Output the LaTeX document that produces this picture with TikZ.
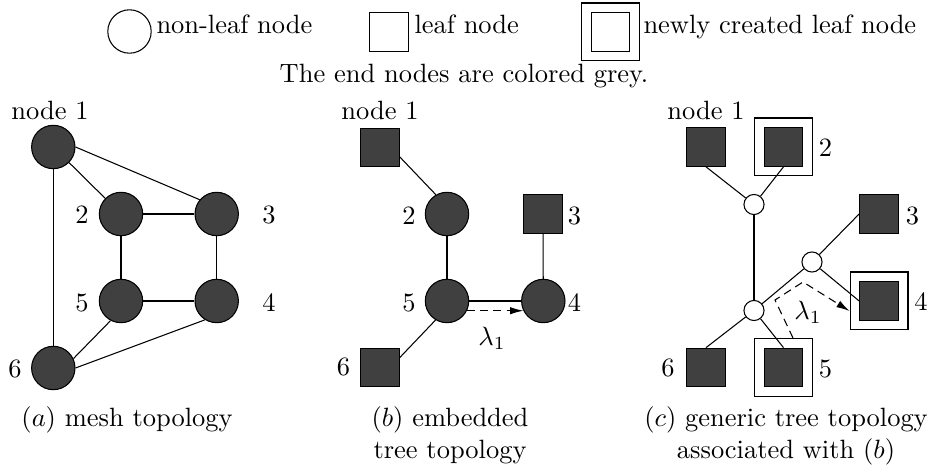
\documentclass[tikz,border=0pt]{standalone}
\usetikzlibrary{arrows.meta,calc}
\definecolor{nodegrey}{RGB}{64,64,64}
\begin{document}
\begin{tikzpicture}[x=0.378pt,y=-0.378pt,
  bignode/.style={circle,draw,fill=nodegrey,minimum size=16.4pt,inner sep=0pt},
  legcirc/.style={circle,draw,fill=white,minimum size=16.4pt,inner sep=0pt},
  leafsq/.style={rectangle,draw,fill=nodegrey,minimum size=14.6pt,inner sep=0pt},
  legsq/.style={rectangle,draw,fill=white,minimum size=14.6pt,inner sep=0pt},
  outersq/.style={rectangle,draw,minimum size=21.9pt,inner sep=0pt},
  junction/.style={circle,draw,fill=white,minimum size=7.6pt,inner sep=0pt},
  lbl/.style={inner sep=0pt,anchor=base},
  legtxt/.style={inner sep=0pt,anchor=base west},
  flow/.style={draw,dash pattern=on 3pt off 2pt,-{Latex[length=5pt,width=2.8pt]}}
]
\useasboundingbox (0,0) rectangle (928,466);

% ---------- legend ----------
\node[legcirc] (lc) at (129.5,31.5) {};
\node[legtxt] (lct) at (156,33.5) {non-leaf node};
\node[legsq] (ls) at (389,32) {};
\node[legtxt] (lst) at (414,33.5) {leaf node};
\node[outersq] (lno) at (610.5,32) {};
\node[legsq] (lni) at (610.5,32) {};
\node[legtxt] (lnt) at (643,33.5) {newly created leaf node};
\node[lbl] (title) at (464,83) {The end nodes are colored grey.};

% ---------- panel (a) ----------
\node[bignode] (a1) at (53.3,147) {};
\node[bignode] (a2) at (121,214) {};
\node[bignode] (a3) at (216.7,214) {};
\node[bignode] (a5) at (121,301) {};
\node[bignode] (a4) at (216.7,301) {};
\node[bignode] (a6) at (53.3,368) {};
\node[lbl] (a1l) at (50,119.5) {node 1};
\node[lbl] (a2l) at (82,224) {2};
\node[lbl] (a3l) at (269,224) {3};
\node[lbl] (a5l) at (82,311.5) {5};
\node[lbl] (a4l) at (269,311.5) {4};
\node[lbl] (a6l) at (15,378) {6};
\draw (a1) -- (a2);
\draw (a1.east) -- (a3.140);
\draw (a1) -- (a6);
\draw (a2) -- (a3);
\draw (a2) -- (a5);
\draw (a3) -- (a4);
\draw (a5) -- (a4);
\draw (a5.242) -- (a6.25);
\draw (a6.east) -- (a4.238);

% ---------- panel (b) ----------
\node[leafsq] (b1) at (380,147.5) {};
\node[bignode] (b2) at (447,214) {};
\node[leafsq] (b3) at (543,214) {};
\node[bignode] (b5) at (447,301) {};
\node[bignode] (b4) at (543.3,301) {};
\node[leafsq] (b6) at (380,367.5) {};
\node[lbl] (b1l) at (380,119.5) {node 1};
\node[lbl] (b2l) at (409,224.5) {2};
\node[lbl] (b3l) at (574.5,224.5) {3};
\node[lbl] (b5l) at (409,312) {5};
\node[lbl] (b4l) at (574.5,312) {4};
\node[lbl] (b6l) at (343.5,376) {6};
\node (blam) at (492,338) {$\lambda_1$};
\draw ($(b1.east)+(0,9.5)$) -- (b2.120);
\draw (b2) -- (b5);
\draw (b3) -- (b4);
\draw (b5) -- (b4);
\draw (b5.239) -- ($(b6.east)+(0,-10)$);
\draw[flow] (b5.-26) -- (b4.206);

% ---------- panel (c) ----------
\node[leafsq] (c1) at (706,147) {};
\node[outersq] (c2o) at (783.5,147) {};
\node[leafsq] (c2) at (783.5,147) {};
\node[junction] (ja) at (754,204.5) {};
\node[leafsq] (c3) at (879,214) {};
\node[junction] (jb) at (812,262) {};
\node[outersq] (c4o) at (879,301) {};
\node[leafsq] (c4) at (879,301) {};
\node[junction] (jc) at (754,310.5) {};
\node[leafsq] (c6) at (706,367.5) {};
\node[outersq] (c5o) at (783.5,367.5) {};
\node[leafsq] (c5) at (783.5,367.5) {};
\node[lbl] (c1l) at (706,119.5) {node 1};
\node[lbl] (c2l) at (825.5,157) {2};
\node[lbl] (c3l) at (912.5,224.5) {3};
\node[lbl] (c4l) at (921,311) {4};
\node[lbl] (c5l) at (825.5,378) {5};
\node[lbl] (c6l) at (668,377) {6};
\node (clam) at (808,312.5) {$\lambda_1$};
\draw (c1.south) -- (ja);
\draw (c2.south) -- (ja);
\draw (ja) -- (jc);
\draw (jc) -- (jb);
\draw (jb) -- (c3.west);
\draw (jb) -- (c4.west);
\draw (jc) -- (c6.north);
\draw (jc) -- (c5.north);
\coordinate (d1) at ($(c5o.north)+(9.5,0)$);
\coordinate (d2) at (775,300);
\coordinate (d3) at (803,282);
\coordinate (d4) at ($(c4o.west)+(0,10)$);
\draw[flow] (d1) -- (d2) -- (d3) -- (d4);

% ---------- captions ----------
\node[lbl] (capa) at (127,427) {$(a)$ mesh topology};
\node[lbl] (capb1) at (450,427) {$(b)$ embedded};
\node[lbl] (capb2) at (450,459) {tree topology};
\node[lbl] (capc1) at (786,427) {$(c)$ generic tree topology};
\node[lbl] (capc2) at (786,459) {associated with $(b)$};
\end{tikzpicture}
\end{document}
